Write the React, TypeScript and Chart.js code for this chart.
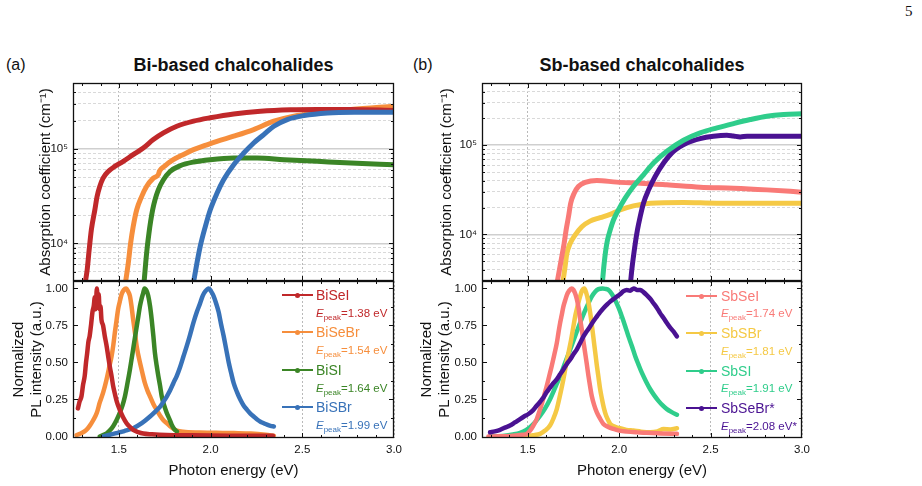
import React, { useEffect, useRef } from 'react';
import { Chart, registerables } from 'chart.js';

Chart.register(...registerables);

const FONT = '"Liberation Sans", Arial, Helvetica, sans-serif';

// ---------- axes ----------
const E_MIN = 1.25;
const E_MAX = 3.0;
const E_LABEL_TICKS = [1.5, 2.0, 2.5, 3.0];
const E_GRID = [1.5, 2.0, 2.5];
const E_MAJOR_MARKS = [1.5, 2.0, 2.5];
const E_MINOR_MARKS = [1.3, 1.4, 1.6, 1.7, 1.8, 1.9, 2.1, 2.2, 2.3, 2.4, 2.6, 2.7, 2.8, 2.9];

const ABS_MAX = 500000;
const ABS_MIN_BI = 4000;
const ABS_MIN_SB = 3000;
const ABS_DECADES = [10000, 100000];
const ABS_DECADE_LABELS = ['10⁴', '10⁵'];
const ABS_GRID_BI = [4000, 5000, 6000, 7000, 8000, 9000, 10000, 20000, 30000, 40000, 50000, 60000, 70000, 80000, 90000, 100000, 200000, 300000, 400000, 500000];
const ABS_GRID_SB = [3000, 4000, 5000, 6000, 7000, 8000, 9000, 10000, 20000, 30000, 40000, 50000, 60000, 70000, 80000, 90000, 100000, 200000, 300000, 400000, 500000];

const PL_MIN = -0.01;
const PL_MAX = 1.05;
const PL_LABEL_TICKS = [0, 0.25, 0.5, 0.75, 1.0];
const PL_MINOR_MARKS = [0.125, 0.375, 0.625, 0.875];

// ---------- colours ----------
const C_BISEI = '#c0282a';
const C_BISEBR = '#f68e3c';
const C_BISI = '#3b8526';
const C_BISBR = '#3872b8';
const C_SBSEI = '#f97a77';
const C_SBSBR = '#f5c945';
const C_SBSI = '#2fcd8b';
const C_SBSEBR = '#4a1292';

// ---------- absorption coefficient (cm^-1) vs photon energy (eV) ----------
const BISEI_ABS_E = [1.312, 1.327, 1.338, 1.350, 1.369, 1.381, 1.396, 1.414, 1.442, 1.478, 1.524, 1.578, 1.633, 1.688, 1.743, 1.816, 1.907, 1.998, 2.126, 2.272, 2.436, 2.582, 2.765, 3.0];
const BISEI_ABS = [3400, 5200, 8500, 13900, 22600, 31300, 40100, 49100, 57800, 65400, 74000, 87100, 102500, 125700, 148000, 174000, 197000, 214000, 235000, 251000, 260000, 262000, 262000, 256000];

const BISEBR_ABS_E = [1.532, 1.551, 1.564, 1.578, 1.597, 1.624, 1.651, 1.688, 1.715, 1.722, 1.750, 1.797, 1.850, 1.907, 1.970, 2.035, 2.126, 2.235, 2.345, 2.454, 2.582, 2.765, 3.0];
const BISEBR_ABS = [3400, 6100, 10000, 15000, 22600, 31300, 40100, 49100, 53500, 58500, 66000, 77100, 87000, 98400, 109000, 120700, 136500, 160600, 197000, 223000, 241000, 262000, 284000];

const BISI_ABS_E = [1.635, 1.646, 1.655, 1.664, 1.673, 1.684, 1.697, 1.715, 1.743, 1.779, 1.834, 1.907, 1.998, 2.126, 2.254, 2.400, 2.582, 2.765, 3.0];
const BISI_ABS = [3400, 6100, 9200, 12800, 17000, 22600, 28900, 36900, 47200, 57800, 66500, 72800, 77100, 80200, 80200, 77100, 74000, 71000, 68100];

const BISBR_ABS_E = [1.902, 1.925, 1.943, 1.971, 1.998, 2.035, 2.071, 2.126, 2.181, 2.235, 2.290, 2.345, 2.418, 2.509, 2.637, 2.783, 3.0];
const BISBR_ABS = [3400, 6100, 9200, 15000, 22600, 34000, 47200, 68100, 90600, 115800, 142000, 174000, 205000, 226000, 241000, 245000, 245000];

const SBSEI_ABS_E = [1.658, 1.673, 1.686, 1.699, 1.710, 1.723, 1.735, 1.754, 1.777, 1.814, 1.878, 1.987, 2.115, 2.261, 2.443, 2.626, 2.808, 3.0];
const SBSEI_ABS = [2700, 3960, 5600, 7900, 11200, 15800, 22400, 29000, 34500, 38300, 40300, 38600, 37600, 36000, 33900, 33000, 31600, 29800];

const SBSBR_ABS_E = [1.690, 1.704, 1.714, 1.732, 1.759, 1.796, 1.841, 1.896, 1.951, 2.005, 2.078, 2.170, 2.352, 2.535, 3.0];
const SBSBR_ABS = [2700, 4300, 6100, 7900, 9800, 12200, 14100, 15400, 16800, 18800, 20900, 22400, 22800, 22400, 22400];

const SBSI_ABS_E = [1.907, 1.918, 1.927, 1.936, 1.951, 1.969, 1.996, 2.033, 2.078, 2.133, 2.188, 2.261, 2.352, 2.443, 2.535, 2.626, 2.717, 2.808, 2.900, 3.0];
const SBSI_ABS = [2700, 4700, 6700, 8600, 11200, 14500, 18800, 25500, 34500, 46700, 63200, 85500, 113800, 137700, 156700, 175300, 194500, 212000, 221600, 225500];

const SBSEBR_ABS_E = [2.061, 2.069, 2.078, 2.088, 2.100, 2.115, 2.133, 2.161, 2.197, 2.243, 2.297, 2.370, 2.443, 2.516, 2.589, 2.625, 2.662, 2.700, 2.735, 2.800, 2.900, 3.0];
const SBSEBR_ABS = [2700, 3960, 5600, 7900, 11200, 15800, 22400, 31600, 44700, 63200, 85500, 106300, 119000, 126400, 129700, 127000, 124200, 126500, 126400, 126400, 126400, 126400];

// ---------- normalized PL intensity vs photon energy (eV) ----------
const BISEI_PL_E = [1.277, 1.287, 1.296, 1.305, 1.314, 1.321, 1.327, 1.334, 1.341, 1.349, 1.356, 1.363, 1.369, 1.374, 1.380, 1.385, 1.390, 1.395, 1.400, 1.405, 1.414, 1.423, 1.432, 1.442, 1.451, 1.460, 1.469, 1.478, 1.490, 1.505, 1.523, 1.542, 1.560, 1.578, 1.605, 1.633, 1.680, 1.760, 1.900, 2.100, 2.340];
const BISEI_PL = [0.19, 0.24, 0.27, 0.35, 0.41, 0.50, 0.56, 0.64, 0.68, 0.76, 0.84, 0.88, 0.94, 0.86, 1.0, 0.90, 0.96, 0.86, 0.88, 0.79, 0.75, 0.68, 0.62, 0.54, 0.47, 0.41, 0.34, 0.29, 0.23, 0.18, 0.13, 0.09, 0.065, 0.045, 0.03, 0.02, 0.015, 0.01, 0.008, 0.006, 0.005];

const BISEBR_PL_E = [1.270, 1.300, 1.323, 1.340, 1.360, 1.380, 1.396, 1.415, 1.432, 1.446, 1.460, 1.470, 1.478, 1.487, 1.496, 1.505, 1.515, 1.527, 1.540, 1.550, 1.560, 1.569, 1.578, 1.588, 1.597, 1.606, 1.615, 1.628, 1.642, 1.656, 1.670, 1.688, 1.706, 1.725, 1.743, 1.761, 1.779, 1.800, 1.816, 1.850, 1.940, 2.030, 2.126, 2.220, 2.300, 2.345];
const BISEBR_PL = [0.01, 0.025, 0.045, 0.07, 0.11, 0.16, 0.23, 0.30, 0.38, 0.46, 0.54, 0.62, 0.70, 0.78, 0.86, 0.91, 0.96, 0.99, 1.0, 0.98, 0.95, 0.88, 0.79, 0.70, 0.61, 0.55, 0.50, 0.43, 0.36, 0.31, 0.27, 0.22, 0.18, 0.14, 0.11, 0.09, 0.07, 0.05, 0.04, 0.032, 0.027, 0.025, 0.023, 0.02, 0.012, 0.005];

const BISI_PL_E = [1.396, 1.414, 1.432, 1.450, 1.469, 1.487, 1.505, 1.520, 1.533, 1.547, 1.560, 1.569, 1.578, 1.588, 1.597, 1.606, 1.615, 1.624, 1.633, 1.640, 1.651, 1.660, 1.670, 1.679, 1.688, 1.697, 1.706, 1.715, 1.725, 1.734, 1.747, 1.761, 1.775, 1.788, 1.802, 1.816];
const BISI_PL = [0.0, 0.01, 0.02, 0.04, 0.07, 0.11, 0.16, 0.21, 0.27, 0.36, 0.45, 0.52, 0.59, 0.67, 0.74, 0.81, 0.88, 0.93, 0.97, 1.0, 0.985, 0.95, 0.88, 0.79, 0.68, 0.56, 0.48, 0.41, 0.34, 0.27, 0.21, 0.16, 0.12, 0.08, 0.05, 0.034];

const BISBR_PL_E = [1.414, 1.450, 1.487, 1.530, 1.578, 1.625, 1.670, 1.700, 1.724, 1.743, 1.761, 1.779, 1.797, 1.816, 1.834, 1.852, 1.870, 1.889, 1.907, 1.925, 1.943, 1.957, 1.971, 1.990, 2.003, 2.016, 2.030, 2.044, 2.057, 2.071, 2.085, 2.099, 2.112, 2.126, 2.144, 2.162, 2.180, 2.199, 2.217, 2.235, 2.254, 2.272, 2.290, 2.308, 2.327, 2.345];
const BISBR_PL = [0.0, 0.012, 0.023, 0.037, 0.056, 0.09, 0.135, 0.17, 0.20, 0.235, 0.27, 0.31, 0.36, 0.41, 0.47, 0.54, 0.61, 0.69, 0.77, 0.84, 0.90, 0.95, 0.98, 1.0, 0.98, 0.95, 0.90, 0.84, 0.76, 0.68, 0.59, 0.50, 0.43, 0.36, 0.30, 0.25, 0.21, 0.18, 0.155, 0.135, 0.115, 0.10, 0.09, 0.08, 0.072, 0.068];

const SBSEI_PL_E = [1.285, 1.350, 1.420, 1.470, 1.495, 1.513, 1.531, 1.550, 1.568, 1.586, 1.604, 1.618, 1.631, 1.645, 1.659, 1.668, 1.677, 1.686, 1.695, 1.705, 1.714, 1.727, 1.740, 1.750, 1.759, 1.768, 1.777, 1.786, 1.796, 1.805, 1.814, 1.823, 1.832, 1.841, 1.850, 1.864, 1.878, 1.896, 1.914, 1.940, 1.969, 2.000, 2.042, 2.100, 2.151, 2.230, 2.316];
const SBSEI_PL = [0.0, 0.002, 0.006, 0.012, 0.018, 0.04, 0.074, 0.12, 0.185, 0.26, 0.34, 0.41, 0.475, 0.55, 0.63, 0.70, 0.766, 0.82, 0.877, 0.92, 0.955, 0.985, 1.0, 0.99, 0.967, 0.93, 0.877, 0.80, 0.72, 0.64, 0.565, 0.49, 0.41, 0.34, 0.275, 0.21, 0.163, 0.12, 0.085, 0.065, 0.051, 0.04, 0.033, 0.028, 0.025, 0.02, 0.018];

const SBSBR_PL_E = [1.400, 1.495, 1.530, 1.568, 1.595, 1.622, 1.640, 1.659, 1.677, 1.695, 1.709, 1.723, 1.737, 1.750, 1.761, 1.772, 1.786, 1.797, 1.810, 1.820, 1.830, 1.841, 1.850, 1.860, 1.869, 1.878, 1.887, 1.896, 1.905, 1.917, 1.929, 1.940, 1.951, 1.978, 2.005, 2.040, 2.078, 2.120, 2.170, 2.210, 2.243, 2.280, 2.316];
const SBSBR_PL = [0.0, 0.003, 0.008, 0.018, 0.04, 0.074, 0.12, 0.185, 0.28, 0.386, 0.48, 0.565, 0.65, 0.743, 0.82, 0.877, 0.944, 0.985, 1.0, 0.97, 0.92, 0.84, 0.76, 0.66, 0.57, 0.48, 0.40, 0.32, 0.26, 0.19, 0.14, 0.11, 0.085, 0.065, 0.056, 0.045, 0.04, 0.033, 0.029, 0.035, 0.05, 0.048, 0.056];

const SBSI_PL_E = [1.294, 1.340, 1.385, 1.420, 1.458, 1.490, 1.513, 1.540, 1.568, 1.595, 1.622, 1.650, 1.677, 1.705, 1.732, 1.760, 1.786, 1.810, 1.832, 1.850, 1.869, 1.887, 1.910, 1.924, 1.942, 1.960, 1.978, 1.997, 2.015, 2.033, 2.051, 2.070, 2.088, 2.106, 2.124, 2.147, 2.170, 2.192, 2.215, 2.238, 2.261, 2.290, 2.316];
const SBSI_PL = [0.0, 0.002, 0.007, 0.014, 0.025, 0.042, 0.063, 0.097, 0.14, 0.19, 0.252, 0.33, 0.408, 0.50, 0.587, 0.68, 0.766, 0.84, 0.9, 0.945, 0.978, 0.995, 1.0, 0.997, 0.989, 0.962, 0.922, 0.87, 0.81, 0.745, 0.676, 0.61, 0.542, 0.485, 0.431, 0.372, 0.319, 0.278, 0.241, 0.21, 0.185, 0.163, 0.147];

const SBSEBR_PL_E = [1.294, 1.320, 1.349, 1.375, 1.403, 1.430, 1.458, 1.480, 1.504, 1.527, 1.549, 1.568, 1.586, 1.604, 1.622, 1.640, 1.659, 1.677, 1.695, 1.714, 1.732, 1.750, 1.768, 1.786, 1.805, 1.823, 1.841, 1.860, 1.878, 1.896, 1.914, 1.933, 1.951, 1.969, 1.987, 2.005, 2.024, 2.042, 2.060, 2.080, 2.097, 2.115, 2.133, 2.151, 2.170, 2.188, 2.206, 2.224, 2.243, 2.261, 2.279, 2.297, 2.316];
const SBSEBR_PL = [0.029, 0.035, 0.045, 0.06, 0.074, 0.095, 0.118, 0.135, 0.152, 0.175, 0.208, 0.235, 0.263, 0.30, 0.33, 0.36, 0.386, 0.42, 0.453, 0.49, 0.52, 0.555, 0.587, 0.63, 0.676, 0.71, 0.743, 0.78, 0.81, 0.84, 0.866, 0.89, 0.911, 0.928, 0.944, 0.96, 0.982, 0.99, 0.985, 1.0, 0.99, 0.989, 0.975, 0.955, 0.93, 0.9, 0.87, 0.833, 0.80, 0.766, 0.735, 0.71, 0.676];

type Series = { name: string; color: string; e: number[]; v: number[]; star?: boolean };

// listed top-most first (Chart.js paints dataset 0 last)
const BI_ABS: Series[] = [
  { name: 'BiSBr', color: C_BISBR, e: BISBR_ABS_E, v: BISBR_ABS },
  { name: 'BiSeI', color: C_BISEI, e: BISEI_ABS_E, v: BISEI_ABS },
  { name: 'BiSeBr', color: C_BISEBR, e: BISEBR_ABS_E, v: BISEBR_ABS },
  { name: 'BiSI', color: C_BISI, e: BISI_ABS_E, v: BISI_ABS },
];
const SB_ABS: Series[] = [
  { name: 'SbSI', color: C_SBSI, e: SBSI_ABS_E, v: SBSI_ABS },
  { name: 'SbSeBr', color: C_SBSEBR, e: SBSEBR_ABS_E, v: SBSEBR_ABS },
  { name: 'SbSeI', color: C_SBSEI, e: SBSEI_ABS_E, v: SBSEI_ABS },
  { name: 'SbSBr', color: C_SBSBR, e: SBSBR_ABS_E, v: SBSBR_ABS },
];
const BI_PL: Series[] = [
  { name: 'BiSeI', color: C_BISEI, e: BISEI_PL_E, v: BISEI_PL },
  { name: 'BiSeBr', color: C_BISEBR, e: BISEBR_PL_E, v: BISEBR_PL },
  { name: 'BiSI', color: C_BISI, e: BISI_PL_E, v: BISI_PL },
  { name: 'BiSBr', color: C_BISBR, e: BISBR_PL_E, v: BISBR_PL },
];
const SB_PL: Series[] = [
  { name: 'SbSeI', color: C_SBSEI, e: SBSEI_PL_E, v: SBSEI_PL },
  { name: 'SbSBr', color: C_SBSBR, e: SBSBR_PL_E, v: SBSBR_PL },
  { name: 'SbSI', color: C_SBSI, e: SBSI_PL_E, v: SBSI_PL },
  { name: 'SbSeBr', color: C_SBSEBR, e: SBSEBR_PL_E, v: SBSEBR_PL, star: true },
];
const BI_PL_DRAW = [BI_PL[0], BI_PL[3], BI_PL[2], BI_PL[1]];
const SB_PL_DRAW = [SB_PL[3], SB_PL[0], SB_PL[1], SB_PL[2]];

const peakOf = (s: Series) => {
  let k = 0;
  s.v.forEach((y, i) => { if (y > s.v[k]) k = i; });
  return s.e[k];
};

const isDecade = (v: number) => v > 0 && Math.abs(Math.log10(v) - Math.round(Math.log10(v))) < 1e-9;

// keep the plot area exactly where the layout puts it (no label overhang padding)
const noPadX = (w: number | null, h: number | null) => (s: any) => {
  if (w !== null) s.width = w;
  if (h !== null) s.height = h;
  s.paddingLeft = 0;
  s.paddingRight = 0;
  s.paddingTop = 0;
  s.paddingBottom = 0;
};

// frame with inward tick marks on all four sides
function makeFrame(yMajor: number[], yMinor: number[]) {
  return {
    id: 'frame',
    afterDatasetsDraw(chart: any) {
      const { ctx, chartArea: a, scales } = chart;
      const xs = scales.x;
      const ys = scales.y;
      ctx.save();
      ctx.strokeStyle = '#111';
      ctx.lineWidth = 1;
      const seg = (x1: number, y1: number, x2: number, y2: number) => {
        ctx.beginPath();
        ctx.moveTo(x1, y1);
        ctx.lineTo(x2, y2);
        ctx.stroke();
      };
      const xMark = (v: number, len: number) => {
        const p = Math.round(xs.getPixelForValue(v)) + 0.5;
        seg(p, a.top, p, a.top + len);
        seg(p, a.bottom, p, a.bottom - len);
      };
      const yMark = (v: number, len: number) => {
        const p = Math.round(ys.getPixelForValue(v)) + 0.5;
        seg(a.left, p, a.left + len, p);
        seg(a.right, p, a.right - len, p);
      };
      E_MAJOR_MARKS.forEach((v) => xMark(v, 5));
      E_MINOR_MARKS.forEach((v) => xMark(v, 3));
      yMajor.forEach((v) => yMark(v, 5));
      yMinor.forEach((v) => yMark(v, 3));
      ctx.lineWidth = 1.3;
      ctx.strokeRect(a.left + 0.5, a.top + 0.5, a.right - a.left - 1, a.bottom - a.top - 1);
      ctx.restore();
    },
  };
}

const toDatasets = (list: Series[], width: number) =>
  list.map((s) => ({
    label: s.name,
    data: s.e.map((x, i) => ({ x, y: s.v[i] })),
    borderColor: s.color,
    backgroundColor: s.color,
    borderWidth: width,
    pointRadius: 0,
    fill: false,
    cubicInterpolationMode: 'monotone' as const,
    borderJoinStyle: 'round' as const,
    borderCapStyle: 'round' as const,
  }));

const xGrid = {
  drawTicks: false,
  color: '#b9b9b9',
  lineWidth: 1,
};

const TICK_FONT = { family: FONT, size: 11.5 };
const TITLE_FONT = { family: FONT, size: 15, lineHeight: 1.2 };

function absConfig(list: Series[], yMin: number, grid: number[], axisW: number, titlePad: number) {
  const minorMarks = grid.filter((v) => !isDecade(v));
  return {
    type: 'line',
    data: { datasets: toDatasets(list, 5) },
    plugins: [makeFrame(ABS_DECADES, minorMarks)],
    options: {
      animation: false,
      responsive: false,
      events: [],
      layout: { padding: { top: 8, right: 16, left: 0, bottom: 0 } },
      plugins: { legend: { display: false }, tooltip: { enabled: false } },
      scales: {
        x: {
          type: 'linear',
          min: E_MIN,
          max: E_MAX,
          afterBuildTicks: (s: any) => { s.ticks = E_GRID.map((value) => ({ value })); },
          afterFit: noPadX(null, 0),
          ticks: { display: false },
          grid: xGrid,
          border: { display: false, dash: [2, 2] },
        },
        y: {
          type: 'logarithmic',
          min: yMin,
          max: ABS_MAX,
          afterBuildTicks: (s: any) => { s.ticks = grid.map((value) => ({ value })); },
          afterFit: noPadX(axisW, null),
          ticks: {
            autoSkip: false,
            padding: 5,
            color: '#111',
            font: TICK_FONT,
            callback: (v: number) => {
              const k = ABS_DECADES.indexOf(v);
              return k >= 0 ? ABS_DECADE_LABELS[k] : '';
            },
          },
          grid: {
            drawTicks: false,
            color: (c: any) => (c.tick && isDecade(c.tick.value) ? '#cfcfcf' : '#d9d9d9'),
            lineWidth: (c: any) => (c.tick && isDecade(c.tick.value) ? 1.6 : 1),
          },
          border: {
            display: false,
            dash: (c: any) => (c.tick && !isDecade(c.tick.value) ? [3, 2] : []),
          },
          title: {
            display: true,
            text: 'Absorption coefficient (cm⁻¹)',
            color: '#111',
            font: TITLE_FONT,
            padding: { top: titlePad, bottom: 0 },
          },
        },
      },
    },
  };
}

function plConfig(list: Series[], axisW: number) {
  return {
    type: 'line',
    data: { datasets: toDatasets(list, 4.5) },
    plugins: [makeFrame(PL_LABEL_TICKS, PL_MINOR_MARKS)],
    options: {
      animation: false,
      responsive: false,
      events: [],
      layout: { padding: { top: 5, right: 16, left: 0, bottom: 0 } },
      plugins: { legend: { display: false }, tooltip: { enabled: false } },
      scales: {
        x: {
          type: 'linear',
          min: E_MIN,
          max: E_MAX,
          afterBuildTicks: (s: any) => { s.ticks = E_LABEL_TICKS.map((value) => ({ value })); },
          afterFit: noPadX(null, 48),
          ticks: {
            padding: 5,
            color: '#111',
            font: TICK_FONT,
            callback: (v: number) => v.toFixed(1),
          },
          grid: xGrid,
          border: { display: false, dash: [2, 2] },
          title: {
            display: true,
            text: 'Photon energy (eV)',
            color: '#111',
            font: TITLE_FONT,
            padding: { top: 0, bottom: 6 },
          },
        },
        y: {
          type: 'linear',
          min: PL_MIN,
          max: PL_MAX,
          afterBuildTicks: (s: any) => { s.ticks = PL_LABEL_TICKS.map((value) => ({ value })); },
          afterFit: noPadX(axisW, null),
          ticks: {
            padding: 5,
            color: '#111',
            font: TICK_FONT,
            callback: (v: number) => v.toFixed(2),
          },
          grid: { display: false, drawTicks: false },
          border: { display: false },
          title: {
            display: true,
            text: ['Normalized', 'PL intensity (a.u.)'],
            color: '#111',
            font: TITLE_FONT,
            padding: { top: 10, bottom: 0 },
          },
        },
      },
    },
  };
}

function ChartCanvas({ left, top, width, height, config }: { left: number; top: number; width: number; height: number; config: any }) {
  const ref = useRef<HTMLCanvasElement | null>(null);
  useEffect(() => {
    if (!ref.current) return;
    const chart = new Chart(ref.current, config);
    return () => chart.destroy();
  }, [config]);
  return (
    <canvas
      ref={ref}
      width={width}
      height={height}
      style={{ position: 'absolute', left, top, width, height }}
    />
  );
}

function Legend({ list, lineX, textX, rows, peakRows }: { list: Series[]; lineX: number; textX: number; rows: number[]; peakRows: number[] }) {
  return (
    <>
      {list.map((s, i) => (
        <React.Fragment key={s.name}>
          <div style={{ position: 'absolute', left: lineX, top: rows[i] - 0.75, width: 31, height: 1.5, background: s.color }} />
          <div style={{ position: 'absolute', left: lineX + 13, top: rows[i] - 2.5, width: 5, height: 5, borderRadius: '50%', background: s.color }} />
          <div style={{ position: 'absolute', left: textX, top: rows[i] - 8, font: `14px/16px ${FONT}`, color: s.color, whiteSpace: 'nowrap' }}>
            {s.name}{s.star ? '*' : ''}
          </div>
          <div style={{ position: 'absolute', left: textX, top: peakRows[i] - 7, font: `11.5px/14px ${FONT}`, color: s.color, whiteSpace: 'nowrap' }}>
            <i>E</i>
            <span style={{ fontSize: 8, position: 'relative', top: 3 }}>peak</span>
            ={peakOf(s).toFixed(2)} eV{s.star ? '*' : ''}
          </div>
        </React.Fragment>
      ))}
    </>
  );
}

const CFG_BI_ABS = absConfig(BI_ABS, ABS_MIN_BI, ABS_GRID_BI, 73, 37);
const CFG_SB_ABS = absConfig(SB_ABS, ABS_MIN_SB, ABS_GRID_SB, 74, 30);
const CFG_BI_PL = plConfig(BI_PL_DRAW, 73);
const CFG_SB_PL = plConfig(SB_PL_DRAW, 74);

export default function App() {
  const heading = { position: 'absolute' as const, top: 55, font: `bold 18px/20px ${FONT}`, color: '#111', textAlign: 'center' as const };
  const tag = { position: 'absolute' as const, top: 55, font: `16px/20px ${FONT}`, color: '#111' };
  return (
    <div style={{ position: 'absolute', left: 0, top: 0, width: 922, height: 486, background: '#fff', overflow: 'hidden' }}>
      <div style={{ position: 'absolute', left: 905, top: 3, font: '15px "Liberation Serif", "DejaVu Serif", serif', color: '#111' }}>5</div>

      <div style={{ ...tag, left: 6 }}>(a)</div>
      <div style={{ ...heading, left: 73, width: 321 }}>Bi-based chalcohalides</div>
      <div style={{ ...tag, left: 413 }}>(b)</div>
      <div style={{ ...heading, left: 482, width: 320 }}>Sb-based chalcohalides</div>

      <ChartCanvas left={0} top={75} width={410} height={206} config={CFG_BI_ABS} />
      <ChartCanvas left={0} top={276} width={410} height={210} config={CFG_BI_PL} />
      <ChartCanvas left={408} top={75} width={410} height={206} config={CFG_SB_ABS} />
      <ChartCanvas left={408} top={276} width={410} height={210} config={CFG_SB_PL} />

      <Legend list={BI_PL} lineX={282} textX={316} rows={[295, 332, 370, 407]} peakRows={[313, 350, 388, 425]} />
      <Legend list={SB_PL} lineX={686} textX={721} rows={[296, 333, 371, 408]} peakRows={[313, 351, 388, 426]} />
    </div>
  );
}
